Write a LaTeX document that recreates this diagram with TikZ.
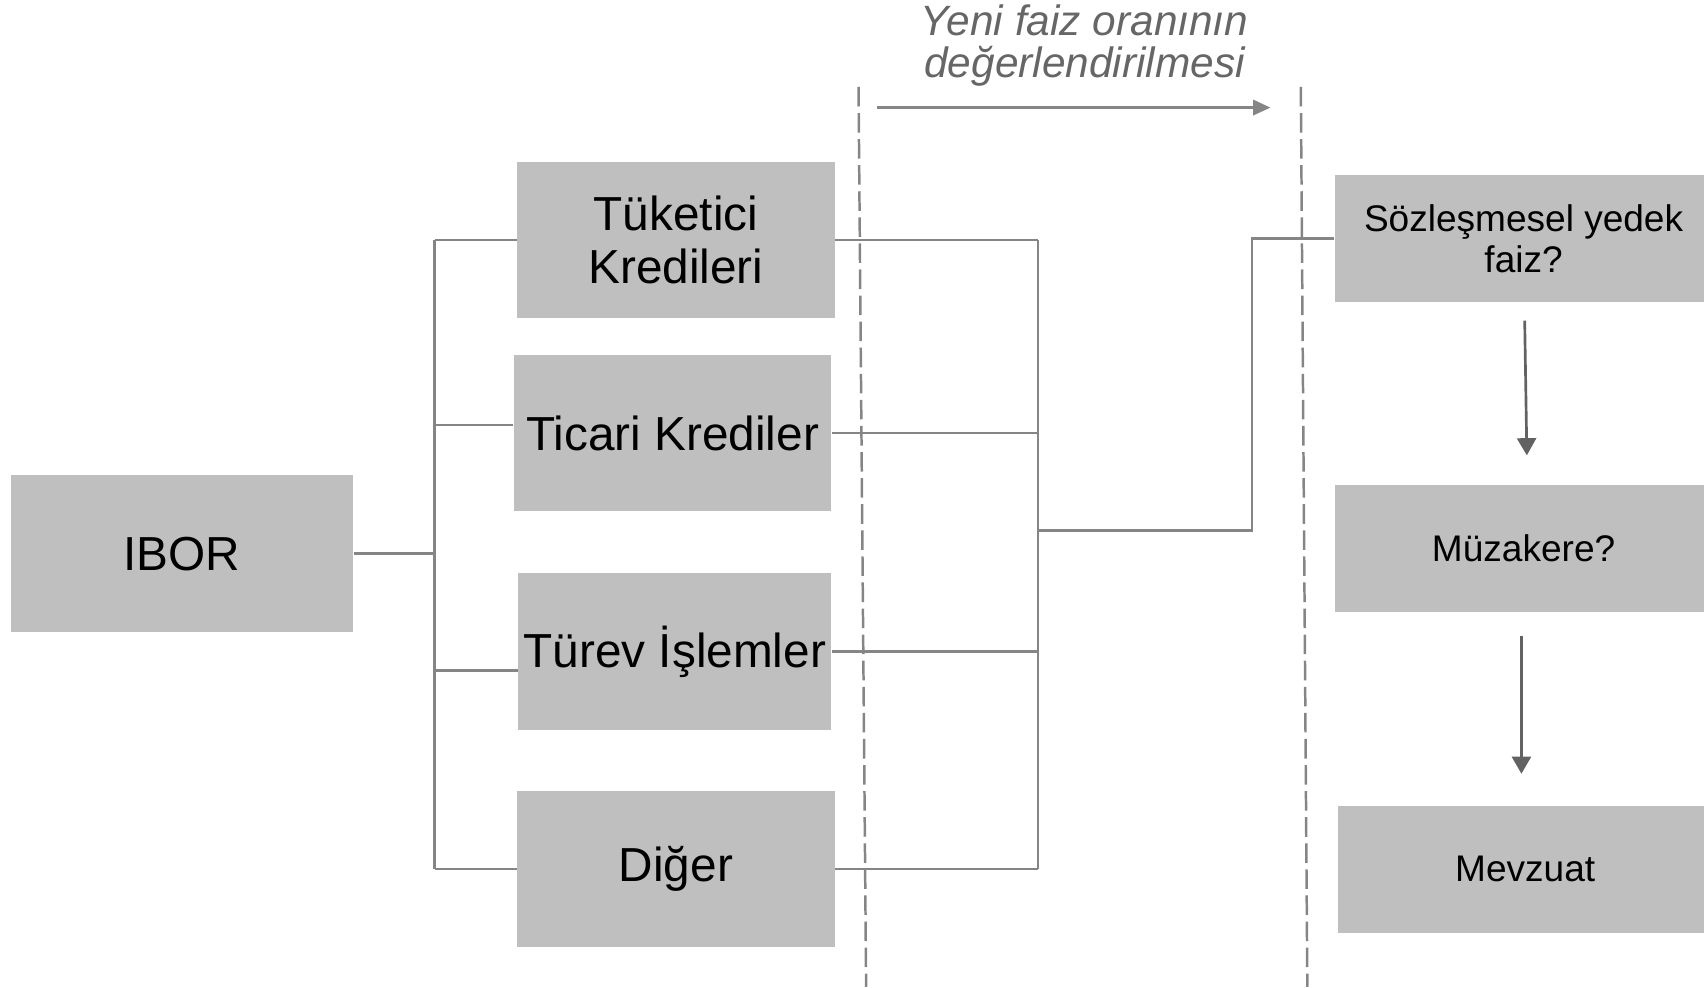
\documentclass[tikz,border=0pt]{standalone}
\usepackage{fontspec}
\setmainfont{Liberation Sans}
\usetikzlibrary{arrows.meta, positioning}

\definecolor{boxgray}{HTML}{BFBFBF}
\definecolor{linegray}{HTML}{858585}
\definecolor{tipgray}{HTML}{626262}
\definecolor{notegray}{HTML}{666666}

\tikzset{
  stage/.style={rectangle, fill=boxgray, inner sep=0pt, align=center,
    minimum width=29.2mm, minimum height=14.4mm,
    font=\fontsize{12.5pt}{14pt}\selectfont},
  check/.style={rectangle, fill=boxgray, inner sep=0pt, align=center,
    minimum width=34.8mm, minimum height=11.7mm,
    font=\fontsize{9.7pt}{10.6pt}\selectfont},
  link/.style={draw=linegray, line width=0.65pt},
  phase/.style={draw=linegray, line width=0.65pt, dash pattern=on 1.8mm off 0.6mm},
}

\begin{document}
\begin{tikzpicture}[x=0.1mm, y=-0.1mm, >=Triangle]

\useasboundingbox (0,0) rectangle (1568,909);

% source box on the left
\node[stage, minimum width=31.5mm, minimum height=14.5mm] (ibor) at (167.5,509.5) {IBOR};

% the four product groups
\node[stage] (tuk) at (622,221) {Tüketici\\Kredileri};
\node[stage] (tic) at (619,398.5) {Ticari Krediler};
\node[stage, minimum width=28.8mm] (tur) at (621,599.5) {Türev İşlemler};
\node[stage] (dig) at (622,799.5) {Diğer};

% the three questions on the right (cut by the page edge)
\node[check] (soz) at (1402,219.5) {Sözleşmesel yedek\\faiz?};
\node[check] (muz) at (1402,504.5) {Müzakere?};
\node[check, minimum width=34.5mm] (mev) at (1403.5,800) {Mevzuat};

% bus lines of the two brackets
\coordinate (lbus) at (400,509.5);
\coordinate (rbus) at (955,488);
\coordinate (turn) at (1152,488);

% left bracket: IBOR to the product groups
\draw[link] (ibor.east) -- (lbus);
\draw[link] (tuk.west -| lbus) -- (dig.west -| lbus);
\draw[link] (tuk.west) -- (tuk.west -| lbus);
\draw[link] ([yshift=0.75mm]tic.west) -- ([yshift=0.75mm]tic.west -| lbus);
\draw[link] ([yshift=-1.75mm]tur.west) -- ([yshift=-1.75mm]tur.west -| lbus);
\draw[link] (dig.west) -- (dig.west -| lbus);

% right bracket: product groups to the first question
\draw[link] (tuk.east) -- (tuk.east -| rbus);
\draw[link] (tic.east) -- (tic.east -| rbus);
\draw[link] (tur.east) -- (tur.east -| rbus);
\draw[link] (dig.east) -- (dig.east -| rbus);
\draw[link] (tuk.east -| rbus) -- (dig.east -| rbus);
\draw[link] (rbus) -- (turn) -- (turn |- soz.west) -- (soz.west);

% dashed phase borders
\coordinate (pa1) at (790,80);
\coordinate (pa2) at (797,908);
\coordinate (pb1) at (1197,80);
\coordinate (pb2) at (1203,908);
\draw[phase] (pa1) -- (pa2);
\draw[phase] (pb1) -- (pb2);

% arrow over the phase with its note
\coordinate (ph1) at (807,99);
\coordinate (ph2) at (1169,99);
\draw[link, ->, >={Triangle[length=4.5pt, width=4pt]}] (ph1) -- (ph2);
\node[text=notegray, align=center, font=\fontsize{11.1pt}{10.8pt}\selectfont\itshape]
  (note) at (998,42) {Yeni faiz oranının\\değerlendirilmesi};

% arrows between the questions
\coordinate (qa1) at (1403,295);
\coordinate (qa2) at (1405,419);
\coordinate (qb1) at (1400,585);
\coordinate (qb2) at (1400,712);
\draw[draw=tipgray, line width=0.7pt, ->, >={Triangle[length=4.5pt, width=5pt]}] (qa1) -- (qa2);
\draw[draw=tipgray, line width=0.7pt, ->, >={Triangle[length=4.5pt, width=5pt]}] (qb1) -- (qb2);

\end{tikzpicture}
\end{document}
